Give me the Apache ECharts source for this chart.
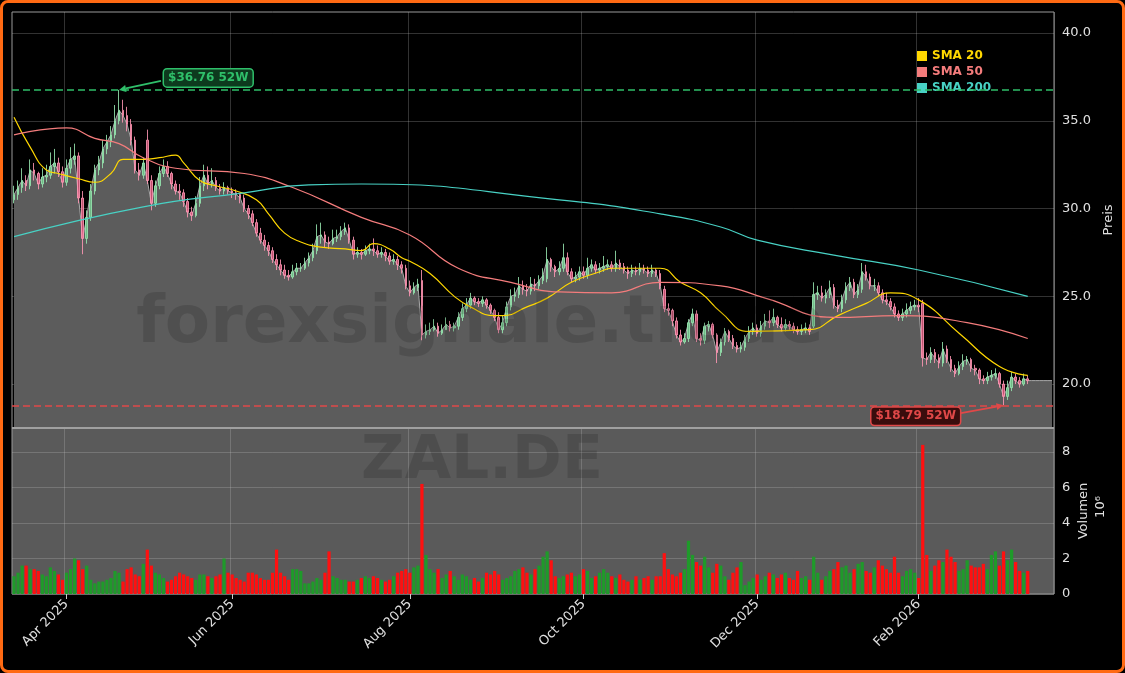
<!DOCTYPE html>
<html>
<head>
<meta charset="utf-8">
<script src="https://cdn.jsdelivr.net/npm/echarts@6/dist/echarts.min.js"></script>
<style>
  html, body { margin: 0; padding: 0; background: #000; }
  #main { width: 1125px; height: 673px; }
  #frame { position: absolute; left: 0; top: 0; width: 1125px; height: 673px; box-sizing: border-box;
           border: 3px solid #ff6a13; border-radius: 8px; pointer-events: none; }
</style>
</head>
<body>
<div id="main"></div>
<div id="frame"></div>
<script>
var closes = [30.8,31.2,31.6,31.3,32.2,32.0,31.4,31.8,31.9,32.4,
32.6,32.1,31.5,32.3,32.8,33.0,30.6,28.3,29.5,31.0,
32.2,32.6,33.4,33.8,34.2,35.0,35.6,35.3,34.8,33.9,
32.2,31.9,32.6,31.6,30.3,31.3,32.0,32.4,32.0,31.4,
31.0,30.9,30.4,29.8,29.6,30.3,31.3,31.9,31.4,31.6,
31.2,31.0,31.2,31.0,30.9,30.8,30.6,30.0,29.7,29.2,
28.6,28.2,27.9,27.6,27.1,26.8,26.5,26.2,26.1,26.4,
26.6,26.6,26.9,27.2,27.6,28.4,28.5,28.1,28.0,28.3,
28.4,28.7,28.9,28.2,27.4,27.5,27.4,27.6,27.7,27.6,
27.4,27.5,27.3,27.0,27.1,26.8,26.6,25.6,25.2,25.5,
25.7,22.8,23.0,23.1,23.3,22.9,23.1,23.4,23.2,23.3,
23.8,24.3,24.5,24.9,24.7,24.6,24.8,24.5,24.2,23.8,
23.1,23.5,24.4,25.0,25.1,25.6,25.4,25.3,25.7,25.6,
25.9,26.2,27.1,26.7,26.4,26.6,27.2,26.4,26.0,26.1,
26.4,26.2,26.6,26.8,26.5,26.6,26.7,26.8,26.6,26.9,
26.7,26.5,26.3,26.5,26.4,26.6,26.5,26.3,26.5,26.3,
25.6,24.3,24.2,23.6,22.8,22.4,22.6,23.5,24.0,22.6,
22.5,23.3,23.4,22.8,21.8,22.4,23.0,22.6,22.2,22.0,
22.1,22.6,23.0,23.2,22.9,23.3,23.6,23.5,23.8,23.4,
23.2,23.4,23.3,23.1,23.0,23.1,23.2,23.0,25.1,25.2,
24.9,25.1,25.5,24.5,24.3,24.8,25.5,25.8,25.1,25.4,
26.4,26.1,25.6,25.6,25.2,24.8,24.7,24.4,24.0,23.8,
24.0,24.2,24.4,24.5,24.4,21.5,21.4,21.8,21.5,21.2,
22.0,21.4,20.9,20.6,21.0,21.3,21.4,20.9,20.8,20.3,
20.2,20.4,20.5,20.6,20.0,19.3,19.8,20.4,20.2,20.0,
20.3,20.2];
var opens = [30.5,30.8,31.2,31.6,31.3,32.2,32.0,31.4,31.8,31.9,
32.4,32.6,32.1,31.5,32.3,32.8,33.0,30.6,28.3,29.5,
31.0,32.2,32.6,33.4,33.8,34.2,35.0,35.6,35.3,34.8,
33.9,32.2,31.9,33.9,31.6,30.3,31.3,32.0,32.4,32.0,
31.4,31.0,30.9,30.4,29.8,29.6,30.3,31.3,31.9,31.4,
31.6,31.2,31.0,31.2,31.0,30.9,30.8,30.6,30.0,29.7,
29.2,28.6,28.2,27.9,27.6,27.1,26.8,26.5,26.2,26.1,
26.4,26.6,26.6,26.9,27.2,27.6,28.4,28.5,28.1,28.0,
28.3,28.4,28.7,28.9,28.2,27.4,27.5,27.4,27.6,27.7,
27.6,27.4,27.5,27.3,27.0,27.1,26.8,26.6,25.6,25.2,
25.5,25.9,22.8,23.0,23.1,23.3,22.9,23.1,23.4,23.2,
23.3,23.8,24.3,24.5,24.9,24.7,24.6,24.8,24.5,24.2,
23.8,23.1,23.5,24.4,25.0,25.1,25.6,25.4,25.3,25.7,
25.6,25.9,26.0,27.1,26.7,26.4,26.6,27.2,26.4,26.0,
26.1,26.4,26.2,26.6,26.8,26.5,26.6,26.7,26.8,26.6,
26.9,26.7,26.5,26.3,26.5,26.4,26.6,26.5,26.3,26.5,
26.3,25.4,24.3,24.2,23.6,22.8,22.4,22.6,23.5,24.0,
22.6,22.5,23.3,23.4,22.8,21.8,22.4,23.0,22.6,22.2,
22.0,22.1,22.6,23.0,23.2,22.9,23.3,23.6,23.5,23.8,
23.4,23.2,23.4,23.3,23.1,23.0,23.1,23.2,23.3,25.1,
25.2,24.9,25.1,25.5,24.5,24.3,24.8,25.5,25.8,25.1,
25.4,26.4,26.1,25.6,25.6,25.2,24.8,24.7,24.4,24.0,
23.8,24.0,24.2,24.4,24.5,24.6,21.5,21.4,21.8,21.5,
21.2,22.0,21.4,20.9,20.6,21.0,21.3,21.4,20.9,20.8,
20.3,20.2,20.4,20.5,20.6,20.0,19.3,19.8,20.4,20.2,
20.0,20.3];
var highs = [31.3,31.6,32.3,31.9,32.8,32.6,32.1,32.3,32.5,33.2,
33.4,32.9,32.4,32.8,33.5,33.7,33.2,31.0,29.9,31.4,
32.5,33.0,33.9,34.2,34.7,35.9,36.76,36.2,35.8,35.1,
34.1,32.6,32.9,34.5,31.9,31.6,32.4,32.8,32.7,32.1,
31.6,31.4,31.1,30.6,30.1,30.7,31.8,32.5,32.4,32.3,
31.8,31.4,31.5,31.3,31.2,31.1,30.9,30.8,30.2,29.9,
29.4,28.9,28.5,28.1,27.8,27.4,27.1,26.8,26.5,26.8,
26.9,26.9,27.2,27.5,28.0,29.1,29.2,28.7,28.4,28.8,
28.8,29.0,29.2,29.1,28.4,27.8,27.7,27.9,28.0,28.3,
27.9,27.8,27.7,27.5,27.4,27.3,27.0,26.8,25.9,25.8,
26.0,26.5,23.4,23.5,23.7,23.5,23.4,23.8,23.6,23.5,
24.1,24.6,24.9,25.2,25.0,24.9,25.0,24.9,24.6,24.3,
24.1,23.9,24.7,25.4,25.5,26.1,25.9,25.7,26.1,26.0,
26.2,26.6,27.8,27.2,26.8,27.0,28.0,27.5,26.6,26.4,
26.7,26.7,27.2,27.1,27.0,26.9,27.3,27.1,27.0,27.6,
27.1,26.9,26.7,26.8,26.7,26.9,26.8,26.7,26.8,26.6,
26.5,25.6,24.6,24.3,23.8,23.1,22.9,23.7,24.3,24.2,
22.9,23.5,23.6,23.5,22.9,22.6,23.2,23.1,22.8,22.4,
22.4,22.8,23.3,23.5,23.4,23.6,24.0,24.2,24.3,23.9,
23.8,23.7,23.6,23.5,23.3,23.4,23.5,23.4,25.8,25.6,
25.6,25.4,25.9,25.7,24.8,25.1,25.8,26.1,26.0,25.7,
26.9,26.8,26.3,26.0,25.8,25.4,25.2,24.9,24.6,24.2,
24.3,24.6,24.7,24.8,24.9,24.8,21.8,22.1,22.0,21.7,
22.4,22.2,21.6,21.1,21.3,21.7,21.6,21.5,21.1,20.9,
20.5,20.7,20.8,20.9,20.7,20.2,20.2,20.7,20.6,20.4,
20.6,20.5];
var lows = [30.3,30.5,30.9,31.0,31.1,31.6,31.1,31.2,31.5,31.7,
32.0,31.8,31.2,31.3,32.0,32.5,30.3,27.4,28.0,29.3,
30.8,31.9,32.3,33.1,33.5,34.0,34.8,34.9,34.4,33.6,
32.0,31.6,31.7,31.4,29.9,30.1,31.1,31.8,31.8,31.1,
30.8,30.5,30.1,29.5,29.3,29.5,30.1,31.0,31.1,31.2,
31.0,30.8,30.8,30.8,30.6,30.5,30.3,29.8,29.4,29.0,
28.4,28.0,27.6,27.3,26.9,26.5,26.2,26.0,25.9,26.0,
26.2,26.4,26.5,26.7,27.0,27.4,28.0,27.8,27.7,27.9,
28.1,28.2,28.5,28.0,27.1,27.2,27.1,27.3,27.4,27.3,
27.2,27.2,27.0,26.8,26.8,26.5,26.3,25.4,25.0,25.1,
25.3,22.5,22.6,22.8,23.0,22.7,22.8,23.1,23.0,23.0,
23.1,23.6,24.1,24.3,24.5,24.4,24.4,24.3,24.0,23.6,
22.9,22.9,23.3,24.2,24.7,24.9,25.1,25.0,25.1,25.3,
25.4,25.7,25.8,26.4,26.1,26.2,26.4,26.2,25.8,25.8,
25.9,26.0,26.0,26.4,26.3,26.3,26.4,26.5,26.4,26.4,
26.5,26.3,26.0,26.1,26.2,26.2,26.3,26.1,26.1,26.1,
25.4,24.1,23.9,23.3,22.6,22.2,22.3,22.4,23.3,22.4,
22.2,22.3,23.0,22.6,21.2,21.6,22.2,22.4,22.0,21.8,
21.8,21.9,22.4,22.8,22.7,22.7,23.1,23.2,23.3,23.2,
23.0,23.0,23.1,22.9,22.8,22.8,22.9,22.8,23.2,24.8,
24.7,24.6,24.9,24.3,24.1,24.1,24.6,25.3,24.9,24.9,
25.2,25.9,25.4,25.3,25.0,24.6,24.5,24.2,23.8,23.6,
23.6,23.8,24.0,24.2,24.1,21.0,21.1,21.2,21.2,20.9,
21.0,21.2,20.7,20.4,20.5,20.8,21.1,20.7,20.5,20.0,
20.0,20.0,20.2,20.3,19.8,18.79,19.1,19.6,20.0,19.8,
19.9,20.0];
// volume in millions
var volumes = [1.0,1.2,1.6,1.6,1.4,1.4,1.3,1.1,1.0,1.5,
1.3,1.1,0.8,1.2,1.4,2.0,1.9,1.4,1.6,0.8,
0.6,0.7,0.7,0.8,0.9,1.3,1.2,0.7,1.4,1.5,
1.1,1.0,1.7,2.5,1.6,1.2,1.1,0.9,0.7,0.8,
1.0,1.2,1.1,1.0,0.9,0.8,1.1,1.1,1.0,0.9,
1.0,1.1,2.0,1.2,1.1,0.9,0.8,0.7,1.2,1.2,
1.1,0.9,0.8,0.8,1.2,2.5,1.2,1.0,0.8,1.4,
1.4,1.3,0.6,0.6,0.7,0.9,0.8,1.2,2.4,1.0,
0.9,0.8,0.8,0.7,0.7,0.8,0.9,1.0,0.9,1.0,
0.9,0.8,0.7,0.8,1.0,1.2,1.3,1.4,1.2,1.5,
1.6,6.2,2.2,1.4,1.2,1.4,0.9,1.1,1.3,1.0,
0.8,1.1,1.0,0.8,0.9,0.7,0.9,1.2,1.1,1.3,
1.1,0.8,0.9,1.0,1.3,1.4,1.5,1.2,1.1,1.4,
1.6,2.1,2.4,1.9,1.0,0.9,1.0,1.1,1.2,1.0,
1.1,1.4,1.3,0.9,1.0,1.2,1.4,1.2,1.0,0.9,
1.1,0.8,0.7,0.8,1.0,0.8,0.9,1.0,0.8,1.0,
1.0,2.3,1.4,1.1,1.0,1.2,1.4,3.0,2.2,1.8,
1.6,2.1,1.5,1.2,1.7,1.6,1.0,0.8,1.2,1.5,
1.8,0.5,0.7,0.9,1.1,0.8,1.0,1.2,1.1,0.9,
1.1,1.2,0.9,0.8,1.3,0.9,1.0,0.8,2.1,1.2,
0.8,1.0,1.3,1.4,1.8,1.5,1.6,1.2,1.4,1.7,
1.8,1.3,1.2,1.5,1.9,1.6,1.4,1.2,2.1,1.2,
1.0,1.3,1.4,1.2,0.9,8.4,2.2,1.3,1.6,1.9,
1.8,2.5,2.1,1.8,1.3,1.4,1.9,1.6,1.5,1.5,
1.7,1.4,2.2,2.4,1.6,2.4,1.9,2.5,1.8,1.3,
1.2,1.3];
// moving averages: [day index, value]
var sma20 = [[0,35.2],[4,33.5],[8,32.2],[11,32.0],[16,31.7],[20,31.5],[24,32.0],[27,32.8],[31,32.8],[36,32.9],[40,33.05],[42,32.6],[46,31.6],[50,31.3],[55,31.0],[60,30.5],[63,29.7],[67,28.6],[71,28.1],[76,27.8],[82,27.7],[86,27.6],[89,28.0],[93,27.7],[96,27.2],[98,27.0],[103,26.3],[109,25.0],[113,24.4],[119,23.9],[121,23.9],[127,24.4],[132,24.9],[138,25.8],[145,26.4],[148,26.6],[160,26.6],[165,25.8],[170,25.2],[175,24.1],[182,23.0],[197,23.1],[204,23.9],[211,24.6],[217,25.2],[224,24.8],[234,22.9],[244,21.0],[251,20.5]];
var sma50 = [[0,34.2],[13,34.6],[20,34.0],[26,33.7],[32,32.9],[40,32.3],[57,32.0],[69,31.2],[86,29.5],[98,28.5],[110,26.6],[123,25.8],[135,25.25],[148,25.2],[160,25.8],[175,25.6],[186,24.9],[203,23.8],[219,23.9],[236,23.5],[251,22.6]];
var sma200 = [[0,28.4],[32,30.1],[57,30.9],[73,31.35],[86,31.4],[135,30.5],[160,29.7],[175,28.95],[184,28.2],[203,27.35],[224,26.5],[251,25.0]];
var monthTicks = {13: 'Apr 2025', 54: 'Jun 2025', 98: 'Aug 2025', 141: 'Oct 2025', 184: 'Dec 2025', 224: 'Feb 2026'};
var tailDays = 6;
var high52 = 36.76, high52Idx = 26;
var low52 = 18.79, low52Idx = 245;

var myChart = echarts.init(document.getElementById('main'));
var n = closes.length + tailDays;
var cats = [];
for (var i = 0; i < n; i++) cats.push(String(i));

var candles = [], vol = [], area = [];
for (var i = 0; i < closes.length; i++) {
    candles.push([opens[i], closes[i], lows[i], highs[i]]);
    var up = closes[i] >= opens[i];
    vol.push({value: volumes[i], itemStyle: {color: up ? '#1f9a2a' : '#ff1010'}});
    area.push(closes[i]);
}
for (var j = 0; j < tailDays; j++) area.push(closes[closes.length - 1]);

function isTick(idx) { return monthTicks[idx] !== undefined; }

var axisText = {color: '#e0e0e0', fontSize: 13, fontFamily: 'DejaVu Sans'};
var option = {
    backgroundColor: '#000',
    animation: false,
    legend: {
        orient: 'vertical', left: 912, top: 45, itemWidth: 10, itemHeight: 10, itemGap: 4, icon: 'rect',
        textStyle: {fontWeight: 'bold', fontSize: 12, fontFamily: 'DejaVu Sans'},
        data: [
            {name: 'SMA 20', textStyle: {color: '#ffd700'}},
            {name: 'SMA 50', textStyle: {color: '#f47c7c'}},
            {name: 'SMA 200', textStyle: {color: '#48d1c4'}}
        ]
    },
    grid: [
        {left: 12, right: 71, top: 12, height: 416, show: true, borderColor: '#9a9a9a', borderWidth: 1},
        {left: 12, right: 71, top: 428, height: 166, show: true, backgroundColor: '#5a5a5a', borderColor: '#9a9a9a', borderWidth: 1}
    ],
    xAxis: [
        {type: 'category', gridIndex: 0, data: cats, axisLabel: {show: false}, axisTick: {show: false}, axisLine: {show: false},
         splitLine: {show: true, interval: function (i) { return isTick(i); }, lineStyle: {color: 'rgba(200,200,200,0.25)'}}},
        {type: 'category', gridIndex: 1, data: cats, axisLine: {show: false},
         axisTick: {show: true, interval: function (i) { return isTick(i); }, alignWithLabel: true, lineStyle: {color: '#ccc'}},
         axisLabel: Object.assign({rotate: 45, interval: function (i) { return isTick(i); },
            formatter: function (v) { return monthTicks[+v] || ''; }}, axisText),
         splitLine: {show: true, interval: function (i) { return isTick(i); }, lineStyle: {color: 'rgba(200,200,200,0.25)'}}}
    ],
    yAxis: [
        {type: 'value', gridIndex: 0, position: 'right', min: 17.5, max: 41.2, interval: 2.5,
         name: 'Preis', nameLocation: 'middle', nameRotate: 90, nameGap: 40, nameTextStyle: axisText,
         axisLine: {show: false}, axisTick: {show: false},
         axisLabel: Object.assign({margin: 8, showMaxLabel: false, formatter: function (v) { return v % 5 === 0 ? v.toFixed(1) : ''; }}, axisText),
         splitLine: {lineStyle: {color: ['transparent', 'rgba(200,200,200,0.25)']}}},
        {type: 'value', gridIndex: 1, position: 'right', min: 0, max: 9.35, interval: 2,
         name: 'Volumen', nameLocation: 'middle', nameRotate: 90, nameGap: 24, nameTextStyle: axisText,
         axisLine: {show: false}, axisTick: {show: false},
         axisLabel: Object.assign({margin: 8, showMaxLabel: false, formatter: function (v) { return v % 2 === 0 ? String(v) : ''; }}, axisText),
         splitLine: {lineStyle: {color: 'rgba(200,200,200,0.25)'}}}
    ],
    series: [
        {name: 'area', type: 'line', data: area, xAxisIndex: 0, yAxisIndex: 0, symbol: 'none', z: 1,
         lineStyle: {color: '#a8a8a8', width: 1}, areaStyle: {color: '#5c5c5c', opacity: 1, origin: 'start'},
         markLine: {silent: true, symbol: 'none', label: {show: false},
            data: [
                {yAxis: high52, lineStyle: {color: '#2fbf6a', type: [7, 4], width: 1.5}},
                {yAxis: low52, lineStyle: {color: '#e04848', type: [7, 4], width: 1.5}}
            ]}},
        {name: 'ohlc', type: 'candlestick', data: candles, xAxisIndex: 0, yAxisIndex: 0, barMaxWidth: 3.2, z: 3,
         itemStyle: {color: 'rgba(120,215,150,0.75)', color0: 'rgba(255,110,150,0.75)',
                     borderColor: 'rgba(150,230,175,0.85)', borderColor0: 'rgba(255,150,180,0.85)', borderWidth: 1}},
        {name: 'SMA 20', type: 'line', data: sma20, smooth: true, symbol: 'none', z: 4, color: '#ffd700', lineStyle: {width: 1.2}},
        {name: 'SMA 50', type: 'line', data: sma50, smooth: true, symbol: 'none', z: 4, color: '#f47c7c', lineStyle: {width: 1.2}},
        {name: 'SMA 200', type: 'line', data: sma200, smooth: true, symbol: 'none', z: 4, color: '#48d1c4', lineStyle: {width: 1.2}},
        {name: 'vol', type: 'bar', data: vol, xAxisIndex: 1, yAxisIndex: 1, barWidth: '80%'}
    ]
};
myChart.setOption(option);

function arrow(from, to, color) {
    var a = Math.atan2(to[1] - from[1], to[0] - from[0]);
    var s = 7;
    return [
        {type: 'line', z: 50, shape: {x1: from[0], y1: from[1], x2: to[0] - Math.cos(a) * s, y2: to[1] - Math.sin(a) * s},
         style: {stroke: color, lineWidth: 1.8}},
        {type: 'polygon', z: 50, shape: {points: [to,
            [to[0] - s * Math.cos(a) + 3.5 * Math.sin(a), to[1] - s * Math.sin(a) - 3.5 * Math.cos(a)],
            [to[0] - s * Math.cos(a) - 3.5 * Math.sin(a), to[1] - s * Math.sin(a) + 3.5 * Math.cos(a)]]},
         style: {fill: color}}
    ];
}
function tag(x, y, text, color, bg) {
    return {type: 'text', z: 51, x: x, y: y,
        style: {text: text, fill: color, font: 'bold 12px DejaVu Sans', backgroundColor: bg,
                borderColor: color, borderWidth: 1.5, borderRadius: 3, padding: [3, 4, 2, 4], verticalAlign: 'middle'}};
}
var pH = myChart.convertToPixel({xAxisIndex: 0, yAxisIndex: 0}, [high52Idx, high52]);
var pL = myChart.convertToPixel({xAxisIndex: 0, yAxisIndex: 0}, [low52Idx, low52]);
var els = [];
els = els.concat(arrow([pH[0] + 42, pH[1] - 9], pH, '#2fbf6a'));
els.push(tag(pH[0] + 45, pH[1] - 12, '$36.76 52W', '#2fbf6a', '#0d3a1e'));
els = els.concat(arrow([pL[0] - 44, pL[1] + 8], pL, '#e04848'));
els.push(tag(pL[0] - 132, pL[1] + 11, '$18.79 52W', '#e04848', '#3a0d0d'));
els.push({type: 'line', z: 40, shape: {x1: 12, y1: 428, x2: 1054, y2: 428}, style: {stroke: '#a0a0a0', lineWidth: 2}});
els.push({type: 'text', z: 30, x: 480, y: 325, style: {text: 'forexsignale.trade', fill: 'rgba(0,0,0,0.14)',
    font: 'bold 66px DejaVu Sans', align: 'center', verticalAlign: 'middle'}});
els.push({type: 'text', z: 30, x: 482, y: 462, style: {text: 'ZAL.DE', fill: 'rgba(0,0,0,0.14)',
    font: 'bold 60px DejaVu Sans', align: 'center', verticalAlign: 'middle'}});
els.push({type: 'text', z: 30, x: 1084, y: 511, rotation: Math.PI / 2, style: {text: 'Volumen', fill: '#e0e0e0',
    font: '13px DejaVu Sans', align: 'center', verticalAlign: 'middle'}});
els.push({type: 'text', z: 30, x: 1101, y: 507, rotation: Math.PI / 2, style: {text: '10⁶', fill: '#e0e0e0',
    font: '13px DejaVu Sans', align: 'center', verticalAlign: 'middle'}});
option.yAxis[1].name = '';
myChart.setOption({graphic: els, yAxis: option.yAxis});

window.onresize = function () {
    if (myChart) {
        myChart.resize();
    }
};
</script>
</body>
</html>
